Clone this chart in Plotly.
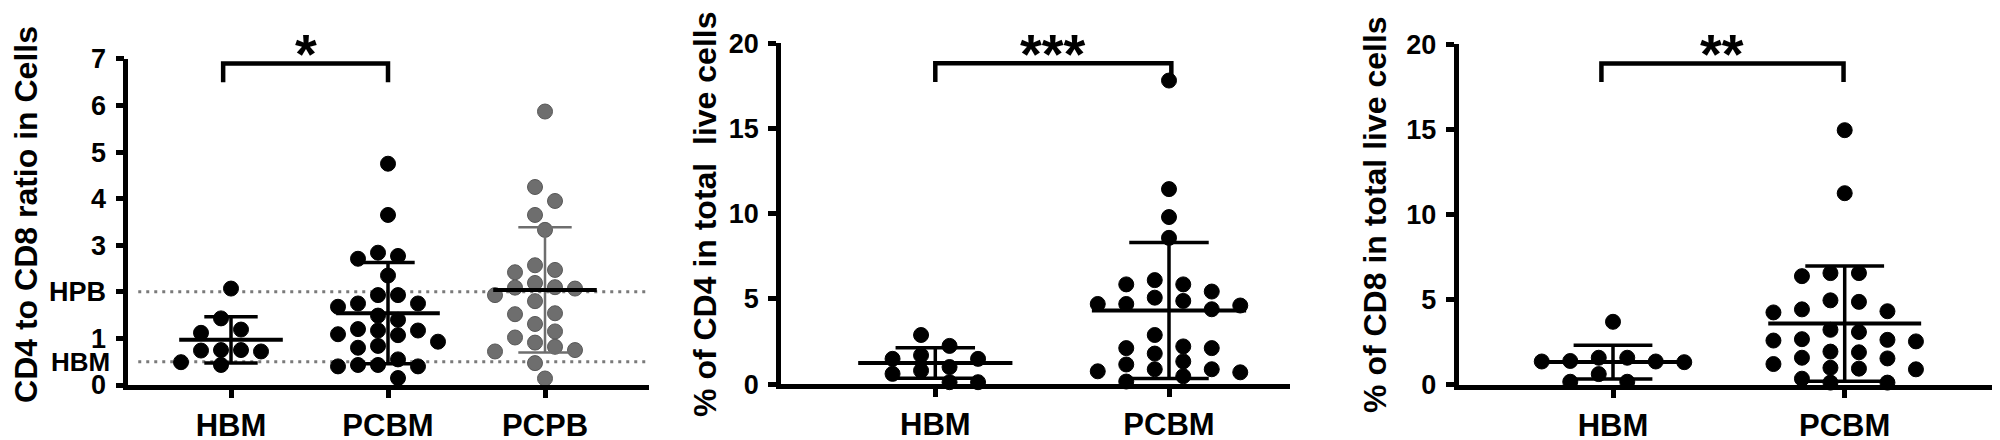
import numpy as np
import plotly.graph_objects as go

# ---------------- data ----------------
cats_ratio = ["HBM", "PCBM", "PCPB"]
cats_pct = ["HBM", "PCBM"]

ratio_hbm = [2.07, 1.43, 1.19, 1.12, 0.75, 0.74, 0.72, 0.75, 0.43, 0.49]
ratio_pcbm = [4.75, 3.65, 2.77, 2.84, 2.71, 2.35, 1.93, 1.93, 1.68, 1.75, 1.75, 1.49, 1.40,
              1.17, 1.20, 1.09, 1.17, 1.07, 0.93, 0.80, 0.84, 0.55, 0.43, 0.43, 0.40, 0.40, 0.15]
ratio_pcpb = [5.87, 4.25, 3.95, 3.65, 3.33, 2.57, 2.47, 2.42, 2.19, 2.09, 2.10, 2.07, 1.80,
              1.93, 1.52, 1.54, 1.31, 1.02, 1.15, 0.91, 0.82, 0.72, 0.75, 0.47, 0.14]

cd4_hbm = [2.88, 2.24, 1.69, 1.48, 1.48, 1.00, 0.79, 0.60, 0.11, 0.11]
cd4_pcbm = [17.81, 11.44, 9.80, 8.58, 6.10, 5.85, 5.85, 5.43, 5.07, 4.88, 4.70, 4.61, 4.70,
            4.39, 2.88, 2.11, 2.11, 2.21, 1.79, 1.33, 0.87, 0.87, 1.15, 0.75, 0.46, 0.69, 0.15]

cd8_hbm = [3.70, 1.33, 1.59, 1.37, 1.37, 1.59, 1.40, 0.63, 0.18, 0.18]
cd8_pcbm = [14.95, 11.25, 6.56, 6.38, 6.56, 4.96, 4.87, 4.32, 4.25, 4.43, 3.23, 3.10, 2.55,
            2.68, 2.64, 2.60, 1.91, 1.95, 1.59, 1.55, 0.95, 0.91, 1.00, 1.22, 0.13, 0.13, 0.36]

ratio_ticks = [0, 1, 2, 3, 4, 5, 6, 7]
ratio_ticktext = ["0", "1", "HPB", "3", "4", "5", "6", "7"]
pct_ticks = [0, 5, 10, 15, 20]

ref_levels = [2.0, 0.5]          # HPB and HBM reference ratios
hbm_ref_label = "HBM"

y_titles = ["CD4 to CD8 ratio in Cells",
            "% of CD4 in total\u00a0 live cells",
            "% of CD8 in total live cells"]
stars = ["*", "***", "**"]

# ---------------- layout constants (pixels) ----------------
W, H = 2000, 440
LW = 4.5
FONT = "Liberation Sans, Arial, Helvetica, sans-serif"
GRAY = "#6e6e6e"

panels = [
    dict(axis_px=118.0, c0=223.0, step=157.0, right=641.0, y0=388.5, ytop=38.5, ymax=7,
         ticks=ratio_ticks, ticktext=ratio_ticktext,
         col_px=20.0, title_x=18.0, bracket=(-0.05, 1.0, 6.90, 6.50)),
    dict(axis_px=770.7, c0=927.3, step=233.7, right=1282.0, y0=387.5, ytop=21.7, ymax=20,
         ticks=pct_ticks, ticktext=[str(t) for t in pct_ticks],
         col_px=28.5, title_x=697.0, bracket=(0.0, 1.01, 18.82, 17.73)),
    dict(axis_px=1448.3, c0=1605.0, step=231.7, right=1992.0, y0=388.3, ytop=22.7, ymax=20,
         ticks=pct_ticks, ticktext=[str(t) for t in pct_ticks],
         col_px=28.5, title_x=1367.0, bracket=(-0.05, 0.995, 18.87, 17.78)),
]

groups = [
    [(ratio_hbm, "black"), (ratio_pcbm, "black"), (ratio_pcpb, GRAY)],
    [(cd4_hbm, "black"), (cd4_pcbm, "black")],
    [(cd8_hbm, "black"), (cd8_pcbm, "black")],
]
cat_lists = [cats_ratio, cats_pct, cats_pct]

MARK = 15
DIAM = 15.5


def swarm(values, ppu_y, col_px, d=DIAM):
    """Column-scatter layout: returns horizontal offsets in pixels."""
    v = np.asarray(values, float)
    order = np.argsort(-v, kind="stable")
    placed = []
    offs = np.zeros(len(v))
    for i in order:
        y = v[i] * ppu_y
        alone = all(abs(y - v[j] * ppu_y) >= d for j in range(len(v)) if j != i)
        cands = [0.0] if alone else []
        k = 0
        while len(cands) < 40:
            cands += [-(k + 0.5) * col_px, (k + 0.5) * col_px]
            k += 1
        for x in cands:
            if all(np.hypot(x - px, y - py) >= d for px, py in placed):
                break
        offs[i] = x
        placed.append((x, y))
    return offs


fig = go.Figure()
layout = dict(width=W, height=H, margin=dict(l=0, r=0, t=0, b=0),
              paper_bgcolor="white", plot_bgcolor="white", showlegend=False)
shapes, annotations = [], []

for p_i, (P, grp, cats) in enumerate(zip(panels, groups, cat_lists)):
    n = p_i + 1
    xa = "x" if n == 1 else f"x{n}"
    ya = "y" if n == 1 else f"y{n}"
    dl = P["axis_px"] + LW / 2
    xr = [(dl - P["c0"]) / P["step"], (P["right"] - P["c0"]) / P["step"]]
    ppu_y = (P["y0"] - P["ytop"]) / P["ymax"]

    for ci, (vals, fill) in enumerate(grp):
        offs = swarm(vals, ppu_y, P["col_px"]) / P["step"]
        fig.add_trace(go.Scatter(
            x=ci + offs, y=vals, mode="markers", xaxis=xa, yaxis=ya, cliponaxis=False,
            marker=dict(size=MARK, color=fill,
                        line=dict(color="#585858" if fill != "black" else "black", width=1)),
            hoverinfo="y"))
        m = float(np.mean(vals))
        sd = float(np.std(vals, ddof=1))
        lo, hi = m - sd, m + sd
        sd_col = GRAY if fill != "black" else "black"
        sd_w = 2.5 if fill != "black" else 3.5
        fig.add_trace(go.Scatter(
            x=[ci, ci, None, ci - 0.17, ci + 0.17, None, ci - 0.17, ci + 0.17],
            y=[lo, hi, None, hi, hi, None, lo, lo], mode="lines", xaxis=xa, yaxis=ya,
            line=dict(color=sd_col, width=sd_w), hoverinfo="skip"))
        fig.add_trace(go.Scatter(
            x=[ci - 0.33, ci + 0.33], y=[m, m], mode="lines", xaxis=xa, yaxis=ya,
            line=dict(color="black", width=4), hoverinfo="skip"))

    axis_common = dict(showline=True, linewidth=LW, linecolor="black", ticks="outside",
                       ticklen=8, tickwidth=LW, tickcolor="black", showgrid=False,
                       zeroline=False, fixedrange=True)
    layout["xaxis" if n == 1 else f"xaxis{n}"] = dict(
        axis_common, domain=[dl / W, P["right"] / W], range=xr, anchor=ya,
        tickmode="array", tickvals=list(range(len(cats))), ticktext=cats,
        tickfont=dict(family=FONT, size=31, color="black", weight="bold"),
        ticklabelstandoff=1)
    layout["yaxis" if n == 1 else f"yaxis{n}"] = dict(
        axis_common, domain=[1 - P["y0"] / H, 1 - P["ytop"] / H], range=[0, P["ymax"]],
        anchor=xa, tickmode="array", tickvals=P["ticks"], ticktext=P["ticktext"],
        tickfont=dict(family=FONT, size=27, color="black", weight="bold"),
        ticklabelstandoff=4)

    # y axis title
    annotations.append(dict(text=y_titles[p_i], xref="paper", yref="paper",
                            x=P["title_x"] / W, y=1 - 206 / H, textangle=-90,
                            xanchor="center", yanchor="middle", showarrow=False,
                            font=dict(family=FONT, size=32, color="black", weight="bold")))
    # significance bracket
    bx0, bx1, btop, bbot = P["bracket"]
    shapes.append(dict(type="path", xref=xa, yref=ya, layer="above",
                       path=f"M {bx0},{bbot} L {bx0},{btop} L {bx1},{btop} L {bx1},{bbot}",
                       line=dict(color="black", width=LW)))
    annotations.append(dict(text=stars[p_i], xref=xa, yref="paper", x=(bx0 + bx1) / 2,
                            y=1 - 33 / H, xanchor="center", yanchor="middle", showarrow=False,
                            font=dict(family=FONT, size=56, color="black", weight="bold")))

# reference dotted lines on the ratio panel
P = panels[0]
xr0 = (P["axis_px"] + LW / 2 + 10 - P["c0"]) / P["step"]
xr1 = (P["right"] - P["c0"]) / P["step"]
for lvl in ref_levels:
    shapes.append(dict(type="line", xref="x", yref="y", x0=xr0, x1=xr1, y0=lvl, y1=lvl,
                       layer="below", line=dict(color="#7a7a7a", width=3, dash="3px,5px")))
annotations.append(dict(text=hbm_ref_label, xref="paper", yref="y", x=104 / W, y=ref_levels[1],
                        xanchor="right", yanchor="middle", showarrow=False,
                        font=dict(family=FONT, size=26, color="black", weight="bold")))

layout["shapes"] = shapes
layout["annotations"] = annotations
fig.update_layout(**layout)
fig.write_html("out.html")
